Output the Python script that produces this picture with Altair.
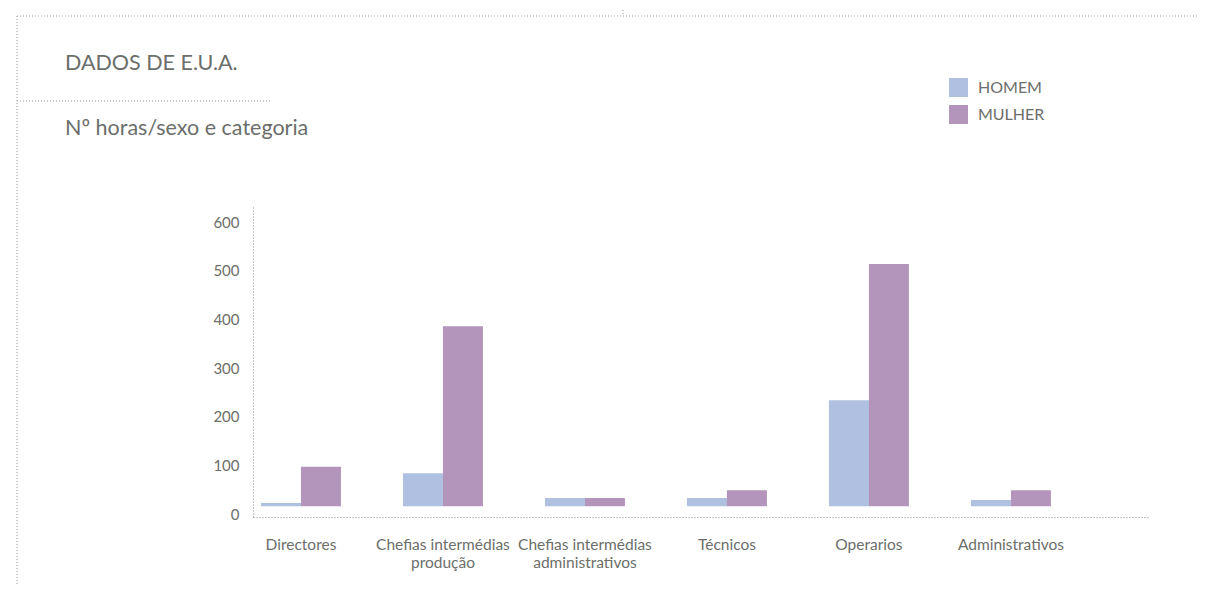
import altair as alt
import pandas as pd

categories = ["Directores", "Chefias intermédias\nprodução", "Chefias intermédias\nadministrativos",
              "Técnicos", "Operarios", "Administrativos"]
homem = [23, 84, 33, 33, 234, 29]
mulher = [97, 386, 33, 49, 514, 49]
series = ["HOMEM", "MULHER"]
colors = ["#afc0e0", "#b394bb"]
y_ticks = [0, 100, 200, 300, 400, 500, 600]
bar_base = 16

rows = []
for c, h, m in zip(categories, homem, mulher):
    rows.append({"cat": c, "sexo": "HOMEM", "val": h})
    rows.append({"cat": c, "sexo": "MULHER", "val": m})
df = pd.DataFrame(rows)

GREY = "#6b6e6a"
LINE = "#8a8a8a"
FONT = "Lato"

bars = alt.Chart(df).mark_bar(size=40).encode(
    x=alt.X("cat:N", sort=categories, title=None,
            scale=alt.Scale(paddingInner=0.437, paddingOuter=0.37, align=0.076),
            axis=alt.Axis(labelAngle=0, ticks=False, domainDash=[1, 2], domainColor=LINE,
                          labelColor=GREY, labelFont=FONT, labelFontSize=15.5, labelPadding=20,
                          labelLineHeight=18, labelExpr="split(datum.label, '\\n')",
                          labelBaseline="top")),
    xOffset=alt.XOffset("sexo:N", sort=series, scale=alt.Scale(paddingInner=0, paddingOuter=0)),
    y=alt.Y("val:Q", title=None,
            scale=alt.Scale(domain=[-6, 635], nice=False, zero=False),
            axis=alt.Axis(values=y_ticks, ticks=False, grid=False, domainDash=[1, 2], domainColor=LINE,
                          labelColor=GREY, labelFont=FONT, labelFontSize=15, labelPadding=14)),
    y2=alt.datum(bar_base),
    color=alt.Color("sexo:N", sort=series, scale=alt.Scale(domain=series, range=colors),
                    legend=alt.Legend(title=None, orient="none", legendX=696, legendY=-127,
                                      symbolType="square", symbolSize=361, symbolStrokeWidth=0,
                                      symbolOpacity=1, labelFont=FONT, labelFontSize=16,
                                      labelColor=GREY, rowPadding=8, padding=0, labelOffset=10)),
)

one = alt.Data(values=[{}])

def rule(x, x2, y, y2):
    return alt.Chart(one).mark_rule(color="#999999", strokeDash=[1, 2], strokeWidth=1).encode(
        x=alt.value(x), x2=alt.value(x2), y=alt.value(y), y2=alt.value(y2))

decor = [
    rule(-236, 964, -189, -189),
    rule(-236, -236, -189, 390),
    rule(-236, 19, -104, -104),
    rule(370, 370, -210, -189),
]

title = alt.Chart(one).mark_text(text="DADOS DE E.U.A.", font=FONT, fontSize=21.5, color=GREY,
                                 align="left", baseline="alphabetic").encode(
    x=alt.value(-188), y=alt.value(-135))
subtitle = alt.Chart(one).mark_text(text="Nº horas/sexo e categoria", font=FONT, fontSize=21.5,
                                    color=GREY, align="left", baseline="alphabetic").encode(
    x=alt.value(-188), y=alt.value(-70))

chart = alt.layer(bars, *decor, title, subtitle).properties(
    width=895, height=312,
    autosize=alt.AutoSizeParams(type="none"),
    padding={"left": 245, "top": 197, "right": 50, "bottom": 67},
).configure_view(stroke=None)

chart.save("out.html", embed_options={"renderer": "svg", "actions": False})
